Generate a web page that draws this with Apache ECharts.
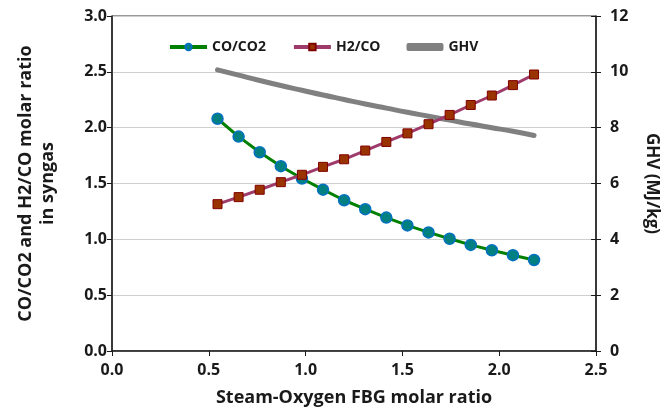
<!DOCTYPE html>
<html>
<head>
<meta charset="utf-8">
<script src="https://cdn.jsdelivr.net/npm/echarts@6/dist/echarts.min.js"></script>
<style>
  html, body { margin: 0; padding: 0; background: #fff; }
  #chart { width: 672px; height: 412px; }
</style>
</head>
<body>
<div id="chart"></div>
<script>
// steam-oxygen ratio (x) for each point
var ratio = [0.545, 0.654, 0.763, 0.872, 0.981, 1.090, 1.199, 1.308,
             1.417, 1.526, 1.635, 1.744, 1.853, 1.962, 2.071, 2.180]
var coCo2 = [2.08, 1.92, 1.78, 1.655, 1.545, 1.445, 1.35, 1.27,
             1.195, 1.125, 1.062, 1.005, 0.95, 0.902, 0.858, 0.815]
var h2Co = [1.315, 1.378, 1.444, 1.512, 1.578, 1.649, 1.717, 1.795,
            1.872, 1.949, 2.031, 2.114, 2.203, 2.288, 2.381, 2.476]
var ghv = [10.07, 9.88, 9.69, 9.51, 9.34, 9.17, 9.01, 8.85,
           8.70, 8.55, 8.41, 8.27, 8.13, 8.00, 7.87, 7.72]

function pairs(ys) {
    return ratio.map(function (x, i) { return [x, ys[i]] })
}

var font = "'Open Sans', sans-serif"
var black = '#1a1a1a'

var chart = echarts.init(document.getElementById('chart'))
var option = {
    animation: false,
    backgroundColor: '#fff',
    textStyle: { fontFamily: font, fontWeight: 'bold', color: black },
    grid: {
        left: 112, right: 76, top: 16, bottom: 60,
        show: true, borderColor: '#333', borderWidth: 1
    },
    legend: {
        left: 163, top: 35,
        itemWidth: 37, itemHeight: 8, itemGap: 26,
        lineStyle: { width: 4 },
        textStyle: { fontFamily: font, fontWeight: 'bold', fontSize: 14, color: black },
        data: ['CO/CO2', 'H2/CO', { name: 'GHV', icon: 'roundRect' }]
    },
    xAxis: {
        type: 'value', min: 0, max: 2.5, interval: 0.5,
        name: 'Steam-Oxygen FBG molar ratio',
        nameLocation: 'middle', nameGap: 38,
        nameTextStyle: { fontSize: 18, fontWeight: 'bold', color: black },
        axisLine: { lineStyle: { color: black, width: 1.5 } },
        axisTick: { length: 5, lineStyle: { color: black } },
        axisLabel: { fontSize: 16, fontWeight: 'bold', color: black, margin: 11,
            formatter: function (v) { return v.toFixed(1) } },
        splitLine: { show: false }
    },
    yAxis: [
        {
            type: 'value', min: 0, max: 3, interval: 0.5, position: 'left',
            name: 'CO/CO2 and H2/CO molar ratio\nin syngas',
            nameLocation: 'middle', nameGap: 53,
            nameTextStyle: { fontSize: 18, fontWeight: 'bold', color: black, lineHeight: 22 },
            axisLine: { show: true, lineStyle: { color: black, width: 1.5 } },
            axisTick: { show: true, length: 5, lineStyle: { color: black } },
            axisLabel: { fontSize: 16, fontWeight: 'bold', color: black, margin: 5,
                formatter: function (v) { return v.toFixed(1) } },
            splitLine: { show: true, lineStyle: { color: '#cfcfcf', width: 1 } }
        },
        {
            type: 'value', min: 0, max: 12, interval: 2, position: 'right',
            name: 'GHV (MJ/kg)',
            nameLocation: 'middle', nameGap: 47, nameRotate: -90,
            nameTextStyle: { fontSize: 17, fontWeight: 'bold', color: black },
            axisLine: { show: true, lineStyle: { color: black, width: 1.5 } },
            axisTick: { show: true, length: 5, lineStyle: { color: black } },
            axisLabel: { fontSize: 16, fontWeight: 'bold', color: black, margin: 14 },
            splitLine: { show: false }
        },
        {
            // inner half of the crossing ticks on the right axis
            type: 'value', min: 0, max: 12, interval: 2, position: 'right',
            axisLine: { show: false },
            axisTick: { show: true, inside: true, length: 5, lineStyle: { color: black } },
            axisLabel: { show: false },
            splitLine: { show: false }
        }
    ],
    series: [
        {
            name: 'CO/CO2', type: 'line', yAxisIndex: 0,
            data: pairs(coCo2),
            symbol: 'circle', symbolSize: 11,
            lineStyle: { color: '#008000', width: 3 },
            itemStyle: { color: '#008080', borderColor: '#0070C0', borderWidth: 1.5 },
            z: 3
        },
        {
            name: 'H2/CO', type: 'line', yAxisIndex: 0,
            data: pairs(h2Co),
            symbol: 'rect', symbolSize: 9,
            lineStyle: { color: '#9E3B6B', width: 3 },
            itemStyle: { color: '#993300', borderColor: '#800000', borderWidth: 1 },
            z: 4
        },
        {
            name: 'GHV', type: 'line', yAxisIndex: 1,
            data: pairs(ghv),
            symbol: 'none', smooth: true,
            lineStyle: { color: '#808080', width: 5, cap: 'round' },
            itemStyle: { color: '#808080' },
            z: 2
        }
    ]
}
chart.setOption(option)
</script>
</body>
</html>
